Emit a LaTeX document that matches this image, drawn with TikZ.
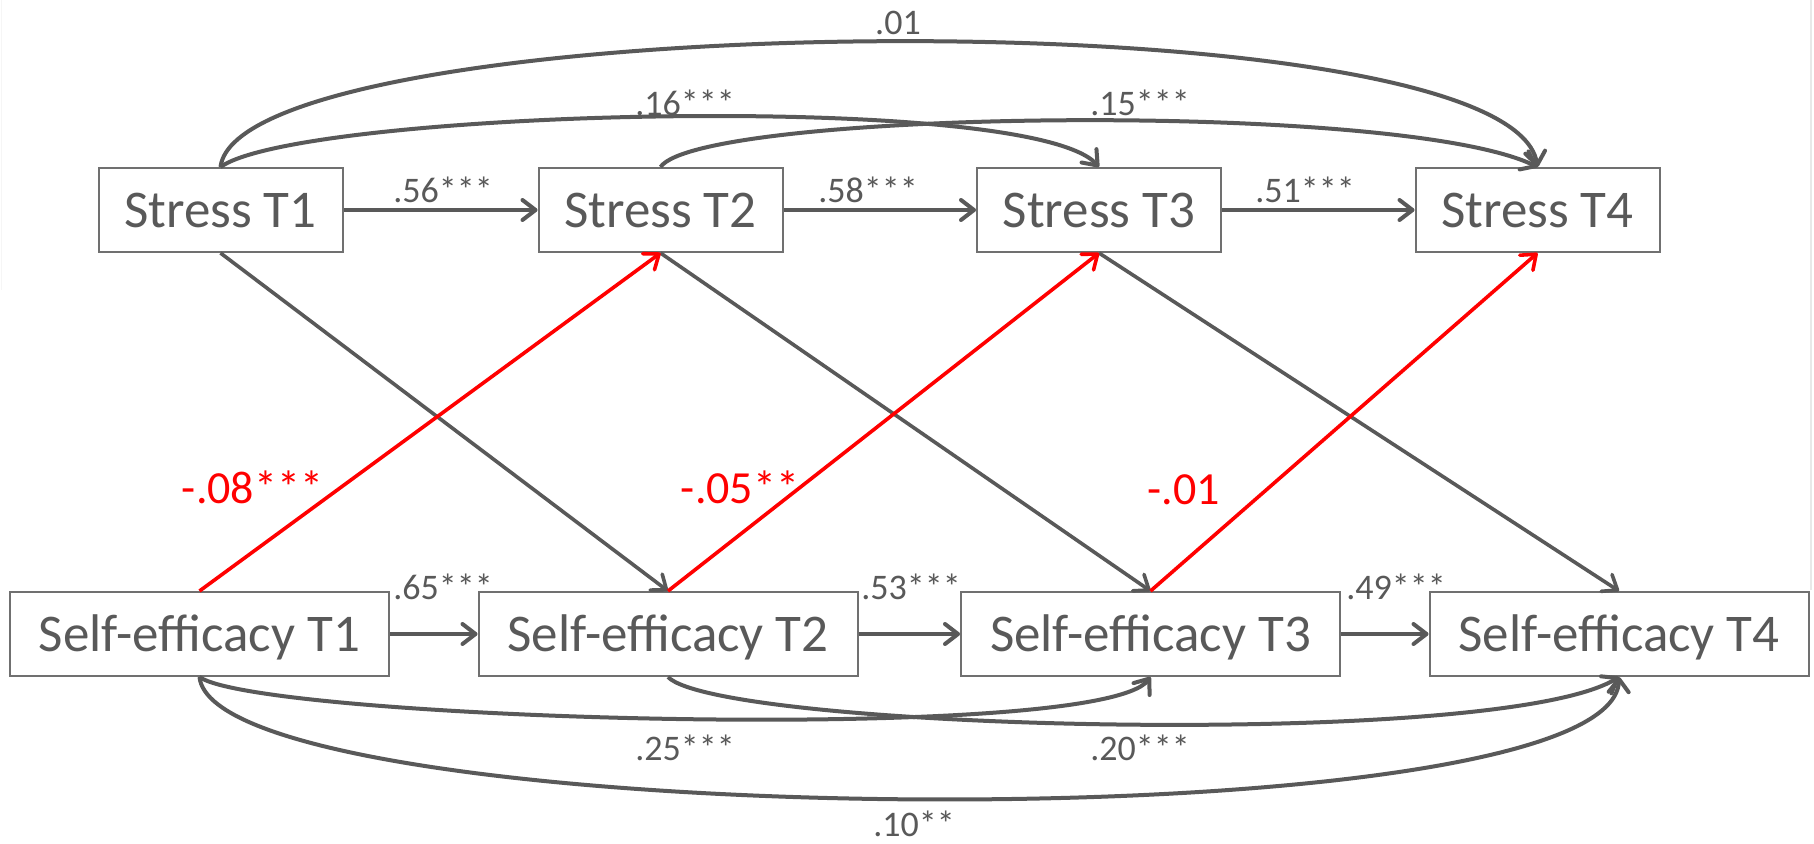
\documentclass[tikz,border=0pt]{standalone}
\usepackage{fontspec}
\setmainfont{Carlito}
\usetikzlibrary{arrows.meta}
\definecolor{ink}{RGB}{89,89,89}
\definecolor{boxline}{RGB}{112,112,112}
\definecolor{neg}{RGB}{255,0,0}
\definecolor{edgeline}{RGB}{232,232,232}

\begin{document}
\begin{tikzpicture}[x=1pt,y=-1pt,
  var/.style={draw=boxline, line width=2pt, inner sep=0pt, minimum height=84pt,
    text height=34pt, text depth=0pt, text=ink, font=\fontsize{53}{60}\selectfont},
  stressbox/.style={var, minimum width=244pt},
  sebox/.style={var, minimum width=379pt},
  link/.style={draw=ink, line width=4pt,
    -{Straight Barb[length=13pt,width=20pt,line cap=round,line join=round]}},
  crosslink/.style={link, line width=3.6pt},
  neglink/.style={draw=neg, line width=3.6pt,
    -{Straight Barb[length=13pt,width=20pt,line cap=round,line join=round]}},
  coef/.style={text=ink, font=\fontsize{36}{40}\selectfont, anchor=base, inner sep=0pt},
  negcoef/.style={text=neg, font=\fontsize{46}{50}\selectfont, anchor=base, inner sep=0pt},
]
\useasboundingbox (0,0) rectangle (1814,843);
\fill[white] (0,0) rectangle (1814,843);
\draw[edgeline, line width=1.5pt] (1811,0) -- (1811,590);
\draw[edgeline!40, line width=1pt] (1,0) -- (1,290);

% stress row
\node[stressbox] (s1) at (220.5,210) {Stress T1};
\node[stressbox] (s2) at (660.5,210) {Stress T2};
\node[stressbox] (s3) at (1099,210) {Stress T3};
\node[stressbox] (s4) at (1537.5,210) {Stress T4};

% self-efficacy row
\node[sebox] (e1) at (199.5,634) {Self-efficacy T1};
\node[sebox] (e2) at (668,634) {Self-efficacy T2};
\node[sebox] (e3) at (1150.5,634) {Self-efficacy T3};
\node[sebox] (e4) at (1619,634) {Self-efficacy T4};

% autoregressive paths
\draw[link] (s1.east) -- (s2.west);
\draw[link] (s2.east) -- (s3.west);
\draw[link] (s3.east) -- (s4.west);
\draw[link] (e1.east) -- (e2.west);
\draw[link] (e2.east) -- (e3.west);
\draw[link] (e3.east) -- (e4.west);

% lag-2 and lag-3 paths, stress
\draw[link] (s1.north) .. controls (240,8) and (1510,-8) .. (s4.north);
\draw[link] (s1.north) .. controls (300,110) and (1030,90) .. (s3.north);
\draw[link] (s2.north) .. controls (700,110) and (1400,100) .. (s4.north);

% lag-2 and lag-3 paths, self-efficacy
\draw[link] (e1.south) .. controls (260,720) and (1100,745) .. (e3.south);
\draw[link] (e2.south) .. controls (720,730) and (1500,750) .. (e4.south);
\draw[link] (e1.south) .. controls (215,832) and (1615,847) .. (e4.south);

% cross-lagged paths
\draw[crosslink] (s1.south) -- (e2.north);
\draw[crosslink] (s2.south) -- (e3.north);
\draw[crosslink] (s3.south) -- (e4.north);
\draw[neglink] (e1.north) -- (s2.south);
\draw[neglink] (e2.north) -- (s3.south);
\draw[neglink] (e3.north) -- (s4.south);

% coefficients
\node[coef] (c14s) at (898,35) {.01};
\node[coef] (c13s) at (685,115) {.16***};
\node[coef] (c24s) at (1140,115) {.15***};
\node[coef] (c12s) at (443,202) {.56***};
\node[coef] (c23s) at (868,202) {.58***};
\node[coef] (c34s) at (1305,202) {.51***};
\node[coef] (c12e) at (443,599) {.65***};
\node[coef] (c23e) at (911,599) {.53***};
\node[coef] (c34e) at (1396,599) {.49***};
\node[coef] (c13e) at (685,760) {.25***};
\node[coef] (c24e) at (1140,760) {.20***};
\node[coef] (c14e) at (914,836) {.10**};
\node[negcoef] (n12) at (252.5,503) {-.08***};
\node[negcoef] (n23) at (740,503) {-.05**};
\node[negcoef] (n34) at (1184,504) {-.01};
\end{tikzpicture}
\end{document}
